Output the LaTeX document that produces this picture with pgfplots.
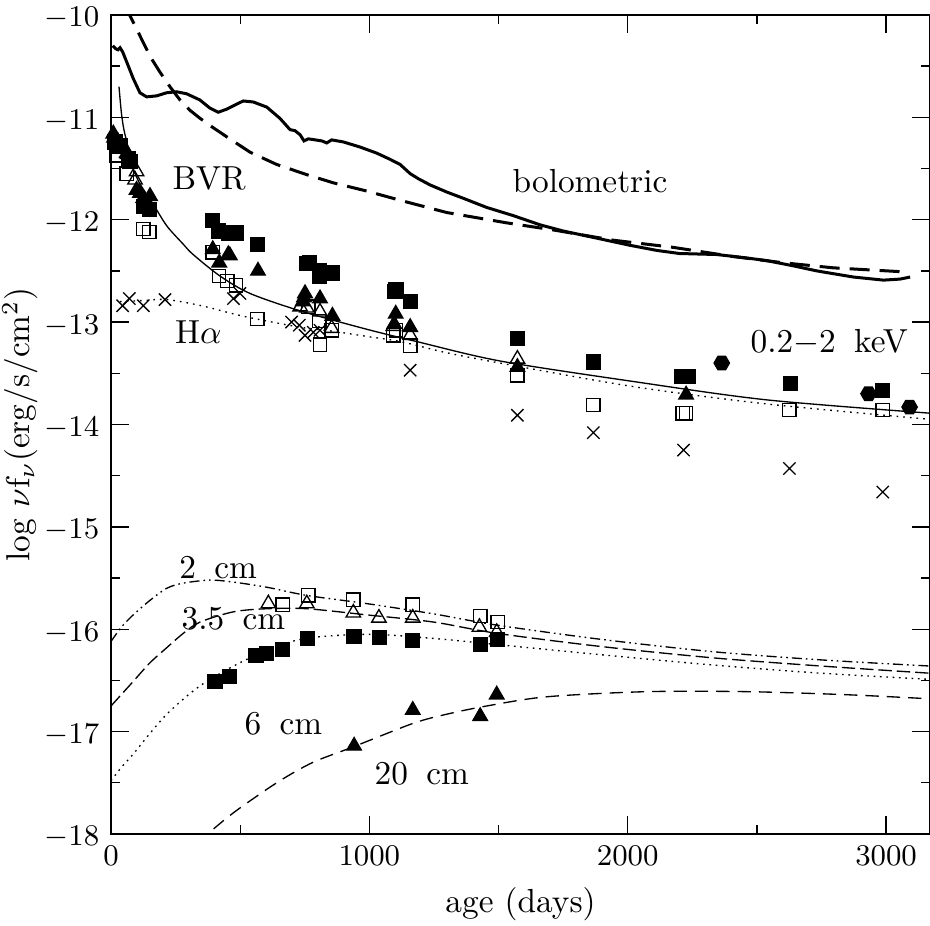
\documentclass[border=0pt]{standalone}
\usepackage{pgfplots}
\pgfplotsset{compat=1.18}
\pgfdeclareplotmark{hexagon*}{%
  \pgfpathmoveto{\pgfqpointpolar{0}{\pgfplotmarksize}}%
  \pgfpathlineto{\pgfqpointpolar{60}{\pgfplotmarksize}}%
  \pgfpathlineto{\pgfqpointpolar{120}{\pgfplotmarksize}}%
  \pgfpathlineto{\pgfqpointpolar{180}{\pgfplotmarksize}}%
  \pgfpathlineto{\pgfqpointpolar{240}{\pgfplotmarksize}}%
  \pgfpathlineto{\pgfqpointpolar{300}{\pgfplotmarksize}}%
  \pgfpathclose\pgfusepathqfillstroke}
\newcommand{\ws}{\hspace{0.55em}}
\begin{document}
\begin{tikzpicture}
\begin{axis}[
  scale only axis, width=245.7pt, height=245.7pt,
  xmin=0, xmax=3170, ymin=-18, ymax=-10,
  xtick={0,1000,2000,3000}, minor xtick={500,1500,2500},
  ytick={-18,-17,...,-10}, minor ytick={-17.5,-16.5,...,-10.5},
  tick align=inside, major tick length=5.5pt, minor tick length=2.8pt,
  axis line style={line width=0.6pt},
  every tick/.style={line width=0.4pt, black},
  xlabel={age (days)},
  ylabel={$\log\,\nu\mathrm{f}_\nu$(erg/s/cm$^2$)},
  xlabel style={at={(axis description cs:0.5,-0.086)},anchor=center},
  ylabel style={at={(axis description cs:-0.111,0.5)},anchor=center},
  tick label style={font=\fontsize{9.5}{11}\selectfont},
  yticklabel style={yshift=-1.1pt, inner ysep=0.3pt},
  label style={font=\fontsize{10}{12}\selectfont},
  scaled x ticks=false,
  xticklabel style={/pgf/number format/1000 sep={}},
  mark options={solid, line width=0.4pt},
]
% bolometric observed
\addplot[black, line width=0.9pt] coordinates {(7,-10.30)(18,-10.33)(27,-10.34)(35,-10.32)(45,-10.36)(61,-10.46)(86,-10.62)(112,-10.76)(138,-10.80)(177,-10.79)(215,-10.76)(254,-10.75)(293,-10.77)(344,-10.83)(383,-10.91)(415,-10.95)(448,-10.92)(487,-10.87)(512,-10.84)(551,-10.85)(603,-10.90)(654,-11.01)(693,-11.12)(712,-11.13)(732,-11.17)(747,-11.23)(764,-11.21)(790,-11.22)(816,-11.23)(835,-11.25)(854,-11.22)(899,-11.24)(964,-11.29)(1029,-11.35)(1080,-11.41)(1119,-11.46)(1158,-11.55)(1190,-11.60)(1235,-11.66)(1300,-11.73)(1363,-11.79)(1454,-11.88)(1557,-11.96)(1661,-12.05)(1750,-12.11)(1880,-12.18)(2009,-12.25)(2113,-12.30)(2200,-12.33)(2345,-12.34)(2450,-12.37)(2539,-12.40)(2640,-12.45)(2732,-12.50)(2874,-12.56)(2990,-12.59)(3054,-12.58)(3093,-12.56)};
% bolometric model
\addplot[black, line width=0.9pt, dash pattern=on 6pt off 3pt] coordinates {(55,-9.91)(74,-10.01)(100,-10.14)(125,-10.27)(155,-10.42)(190,-10.56)(228,-10.70)(267,-10.83)(305,-10.93)(345,-11.01)(395,-11.10)(448,-11.19)(538,-11.34)(641,-11.46)(758,-11.56)(861,-11.64)(990,-11.72)(1119,-11.81)(1300,-11.93)(1530,-12.03)(1712,-12.10)(1944,-12.20)(2176,-12.27)(2409,-12.36)(2600,-12.42)(2796,-12.47)(3074,-12.51)};
% BVR / X-ray model
\addplot[black, line width=0.4pt, smooth] coordinates {(31,-10.70)(40,-10.95)(50,-11.12)(67,-11.30)(86,-11.50)(110,-11.64)(135,-11.74)(164,-11.85)(216,-12.06)(280,-12.24)(318,-12.34)(422,-12.55)(538,-12.72)(732,-12.89)(990,-13.07)(1183,-13.19)(1506,-13.38)(2021,-13.58)(2539,-13.76)(3171,-13.89)};
% H alpha model
\addplot[black, line width=0.4pt, smooth, dash pattern=on 0.5pt off 1.5pt] coordinates {(35,-12.80)(120,-12.79)(216,-12.78)(350,-12.84)(474,-12.92)(564,-12.97)(732,-13.05)(861,-13.09)(990,-13.14)(1119,-13.19)(1300,-13.30)(1506,-13.40)(2021,-13.63)(2539,-13.80)(3171,-13.95)};
% radio models
\addplot[black, line width=0.4pt, smooth, dash pattern=on 3pt off 1.2pt on 0.5pt off 1.2pt on 0.5pt off 1.2pt] coordinates {(0,-16.12)(40,-15.98)(86,-15.86)(150,-15.72)(216,-15.60)(280,-15.55)(383,-15.52)(474,-15.54)(603,-15.59)(758,-15.67)(990,-15.75)(1248,-15.85)(1493,-15.96)(1900,-16.10)(2331,-16.22)(2750,-16.30)(3171,-16.36)};
\addplot[black, line width=0.4pt, smooth, dash pattern=on 4pt off 1.5pt] coordinates {(0,-16.75)(86,-16.51)(150,-16.33)(216,-16.18)(280,-16.04)(345,-15.93)(474,-15.83)(603,-15.80)(758,-15.80)(990,-15.86)(1248,-15.93)(1493,-16.04)(1900,-16.17)(2331,-16.28)(2750,-16.36)(3171,-16.43)};
\addplot[black, line width=0.4pt, smooth, dash pattern=on 0.5pt off 1.4pt] coordinates {(0,-17.48)(40,-17.35)(86,-17.22)(150,-17.02)(216,-16.83)(300,-16.64)(383,-16.49)(538,-16.28)(732,-16.10)(990,-16.05)(1248,-16.09)(1493,-16.15)(1900,-16.25)(2331,-16.35)(2750,-16.43)(3171,-16.49)};
\addplot[black, line width=0.4pt, smooth, dash pattern=on 4pt off 2.4pt] coordinates {(340,-18.10)(375,-18.00)(450,-17.84)(525,-17.70)(654,-17.48)(782,-17.30)(937,-17.15)(1169,-16.92)(1300,-16.83)(1454,-16.75)(1687,-16.66)(2074,-16.61)(2461,-16.61)(2848,-16.64)(3171,-16.68)};
% optical / X-ray data
\addplot[only marks, mark=square*, mark size=2.1pt, black] coordinates {(15,-11.24)(35,-11.28)(67,-11.40)(74,-11.43)(125,-11.87)(148,-11.90)(394,-12.01)(415,-12.11)(454,-12.13)(484,-12.13)(566,-12.24)(758,-12.43)(768,-12.42)(806,-12.50)(806,-12.55)(857,-12.52)(1099,-12.70)(1103,-12.68)(1158,-12.80)(1573,-13.16)(1867,-13.39)(2209,-13.53)(2235,-13.53)(2629,-13.60)(2987,-13.67)};
\addplot[only marks, mark=triangle*, mark size=2.5pt, black] coordinates {(9,-11.16)(12,-11.20)(28,-11.24)(61,-11.35)(65,-11.36)(99,-11.71)(112,-11.74)(125,-11.79)(151,-11.77)(394,-12.29)(419,-12.42)(454,-12.34)(460,-12.35)(569,-12.50)(751,-12.72)(747,-12.76)(742,-12.80)(809,-12.77)(857,-12.94)(1102,-12.92)(1096,-13.02)(1158,-13.05)(1573,-13.44)(2226,-13.71)};
\addplot[only marks, mark=triangle, mark size=2.5pt, black] coordinates {(28,-11.30)(93,-11.61)(99,-11.53)(732,-12.85)(758,-12.86)(809,-12.90)(854,-13.06)(1093,-13.04)(1158,-13.13)(1573,-13.36)};
\addplot[only marks, mark=square, mark size=2.0pt, black] coordinates {(22,-11.37)(61,-11.55)(125,-12.09)(148,-12.12)(394,-12.32)(418,-12.55)(450,-12.60)(484,-12.64)(566,-12.97)(764,-12.85)(807,-12.99)(809,-13.22)(854,-13.08)(1093,-13.13)(1103,-13.08)(1158,-13.23)(1573,-13.52)(1867,-13.81)(2213,-13.89)(2226,-13.89)(2626,-13.86)(2987,-13.86)};
\addplot[only marks, mark=x, mark size=2.6pt, black] coordinates {(45,-12.84)(71,-12.77)(125,-12.84)(209,-12.78)(474,-12.77)(499,-12.72)(699,-13.00)(729,-13.03)(751,-13.13)(783,-13.10)(809,-13.08)(1158,-13.47)(1573,-13.91)(1867,-14.08)(2216,-14.25)(2626,-14.43)(2987,-14.66)};
\addplot[only marks, mark=hexagon*, mark size=2.3pt, black] coordinates {(2364,-13.40)(2932,-13.70)(3091,-13.83)};
% radio data
\addplot[only marks, mark=square, mark size=2.0pt, black] coordinates {(665,-15.76)(764,-15.67)(938,-15.71)(1168,-15.76)(1429,-15.87)(1496,-15.93)};
\addplot[only marks, mark=triangle, mark size=2.5pt, black] coordinates {(609,-15.75)(758,-15.75)(938,-15.84)(1037,-15.89)(1168,-15.89)(1426,-15.98)(1493,-16.03)};
\addplot[only marks, mark=square*, mark size=2.1pt, black] coordinates {(403,-16.51)(458,-16.46)(561,-16.26)(603,-16.24)(665,-16.20)(760,-16.09)(941,-16.07)(1039,-16.08)(1168,-16.11)(1429,-16.15)(1496,-16.10)};
\addplot[only marks, mark=triangle*, mark size=2.5pt, black] coordinates {(941,-17.14)(1168,-16.79)(1429,-16.85)(1493,-16.64)};
% labels
\begingroup\fontsize{10}{12}\selectfont
\node at (axis cs:380,-11.60) {BVR};
\node at (axis cs:1854,-11.62) {bolometric};
\node at (axis cs:338,-13.10) {H$\alpha$};
\node at (axis cs:2780,-13.20) {0.2$-$2\ws keV};
\node at (axis cs:415,-15.40) {2\ws cm};
\node at (axis cs:474,-15.90) {3.5\ws cm};
\node at (axis cs:667,-16.92) {6\ws cm};
\node at (axis cs:1203,-17.41) {20\ws cm};
\endgroup
\coordinate (LL) at (rel axis cs:0,0);
\coordinate (UR) at (rel axis cs:1,1);
\end{axis}
\pgfresetboundingbox
\path (LL) ++(-33.3pt,-27.6pt) rectangle ([yshift=4.5pt]UR);
\end{tikzpicture}
\end{document}
